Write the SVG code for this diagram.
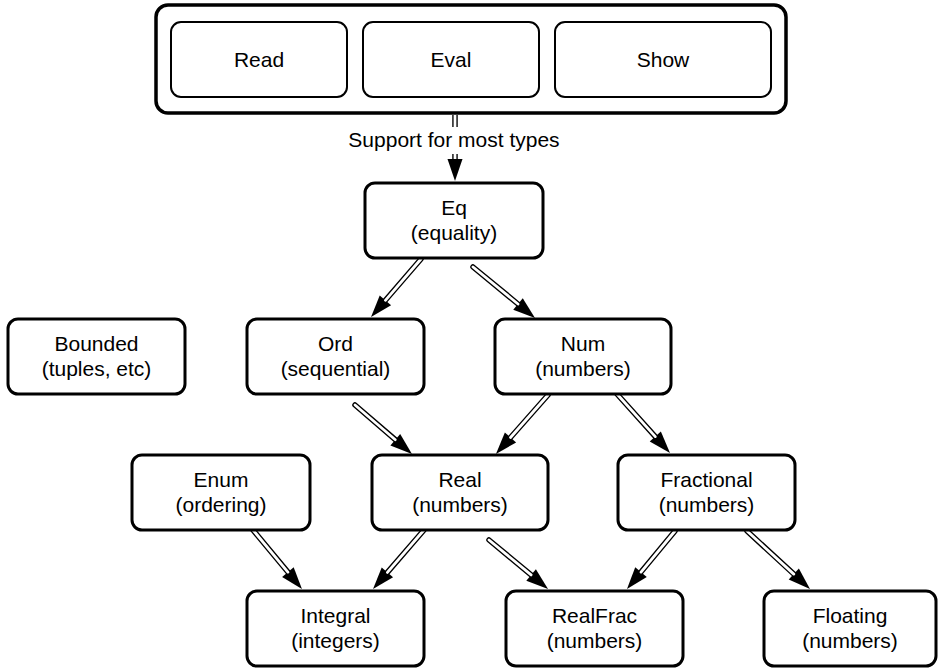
<svg xmlns="http://www.w3.org/2000/svg" width="938" height="668" viewBox="0 0 938 668">
<style>
  .node rect { fill: #fff; stroke: #000; stroke-width: 3; }
  .inner rect { fill: #fff; stroke: #000; stroke-width: 2; }
  text { font-family: "Liberation Sans", Arial, Helvetica, sans-serif; font-size: 21px; fill: #000; text-anchor: middle; }
  .outerline { stroke: #000; stroke-width: 5.5; fill: none; stroke-linecap: round; }
  .innerline { stroke: #fff; stroke-width: 2.8; fill: none; stroke-linecap: round; }
</style>
<defs>
  <marker id="head" markerUnits="userSpaceOnUse" markerWidth="22" markerHeight="15" viewBox="0 0 22 15" refX="0" refY="7.5" orient="auto" overflow="visible">
    <path d="M0,0 L22,7.5 L0,15 Z" fill="#000"/>
  </marker>
</defs>
<rect width="938" height="668" fill="#fff"/>

<g id="repl">
  <rect x="156" y="5" width="630" height="108" rx="12" fill="#fff" stroke="#000" stroke-width="3.5"/>
  <g id="read" class="inner"><rect x="171" y="22" width="176" height="75" rx="10"/><text x="259" y="67">Read</text></g>
  <g id="eval" class="inner"><rect x="363" y="22" width="176" height="75" rx="10"/><text x="451" y="67">Eval</text></g>
  <g id="show" class="inner"><rect x="555" y="22" width="216" height="75" rx="10"/><text x="663" y="67">Show</text></g>
</g>

<g id="connectors">
  <g class="outerline">
    <line x1="455" y1="115" x2="455" y2="127" stroke-linecap="butt"/>
    <line x1="455" y1="154" x2="455" y2="159" stroke-linecap="butt" marker-end="url(#head)"/>
    <line x1="421" y1="259" x2="385.4" y2="300.3" marker-end="url(#head)"/>
    <line x1="473" y1="267" x2="518.0" y2="304.0" marker-end="url(#head)"/>
    <line x1="355" y1="405" x2="395.3" y2="439.7" marker-end="url(#head)"/>
    <line x1="548" y1="395" x2="510.5" y2="437.5" marker-end="url(#head)"/>
    <line x1="617" y1="394" x2="655.3" y2="436.6" marker-end="url(#head)"/>
    <line x1="675" y1="531" x2="641.0" y2="572.1" marker-end="url(#head)"/>
    <line x1="747" y1="531" x2="793.8" y2="574.1" marker-end="url(#head)"/>
    <line x1="489" y1="540" x2="531.1" y2="574.9" marker-end="url(#head)"/>
    <line x1="253" y1="530" x2="287.9" y2="572.1" marker-end="url(#head)"/>
    <line x1="424" y1="530" x2="387.4" y2="572.4" marker-end="url(#head)"/>
  </g>
  <g class="innerline">
    <line x1="455" y1="115" x2="455" y2="127" stroke-linecap="butt"/>
    <line x1="455" y1="154" x2="455" y2="159" stroke-linecap="butt"/>
    <line x1="421" y1="259" x2="385.4" y2="300.3"/>
    <line x1="473" y1="267" x2="518.0" y2="304.0"/>
    <line x1="355" y1="405" x2="395.3" y2="439.7"/>
    <line x1="548" y1="395" x2="510.5" y2="437.5"/>
    <line x1="617" y1="394" x2="655.3" y2="436.6"/>
    <line x1="675" y1="531" x2="641.0" y2="572.1"/>
    <line x1="747" y1="531" x2="793.8" y2="574.1"/>
    <line x1="489" y1="540" x2="531.1" y2="574.9"/>
    <line x1="253" y1="530" x2="287.9" y2="572.1"/>
    <line x1="424" y1="530" x2="387.4" y2="572.4"/>
  </g>
  <text x="454" y="147">Support for most types</text>
</g>

<g id="eq" class="node"><rect x="365" y="183" width="178" height="75" rx="10"/><text x="454" y="215">Eq</text><text x="454" y="240">(equality)</text></g>
<g id="bounded" class="node"><rect x="8" y="319" width="177" height="75" rx="10"/><text x="96.5" y="351">Bounded</text><text x="96.5" y="376">(tuples, etc)</text></g>
<g id="ord" class="node"><rect x="247" y="319" width="177" height="75" rx="10"/><text x="335.5" y="351">Ord</text><text x="335.5" y="376">(sequential)</text></g>
<g id="num" class="node"><rect x="495" y="319" width="176" height="75" rx="10"/><text x="583" y="351">Num</text><text x="583" y="376">(numbers)</text></g>
<g id="enum" class="node"><rect x="132" y="455" width="178" height="75" rx="10"/><text x="221" y="487">Enum</text><text x="221" y="512">(ordering)</text></g>
<g id="real" class="node"><rect x="372" y="455" width="176" height="75" rx="10"/><text x="460" y="487">Real</text><text x="460" y="512">(numbers)</text></g>
<g id="fractional" class="node"><rect x="618" y="455" width="177" height="75" rx="10"/><text x="706.5" y="487">Fractional</text><text x="706.5" y="512">(numbers)</text></g>
<g id="integral" class="node"><rect x="247" y="591" width="177" height="75" rx="10"/><text x="335.5" y="623">Integral</text><text x="335.5" y="648">(integers)</text></g>
<g id="realfrac" class="node"><rect x="506" y="591" width="177" height="75" rx="10"/><text x="594.5" y="623">RealFrac</text><text x="594.5" y="648">(numbers)</text></g>
<g id="floating" class="node"><rect x="764" y="591" width="172" height="75" rx="10"/><text x="850" y="623">Floating</text><text x="850" y="648">(numbers)</text></g>
</svg>
